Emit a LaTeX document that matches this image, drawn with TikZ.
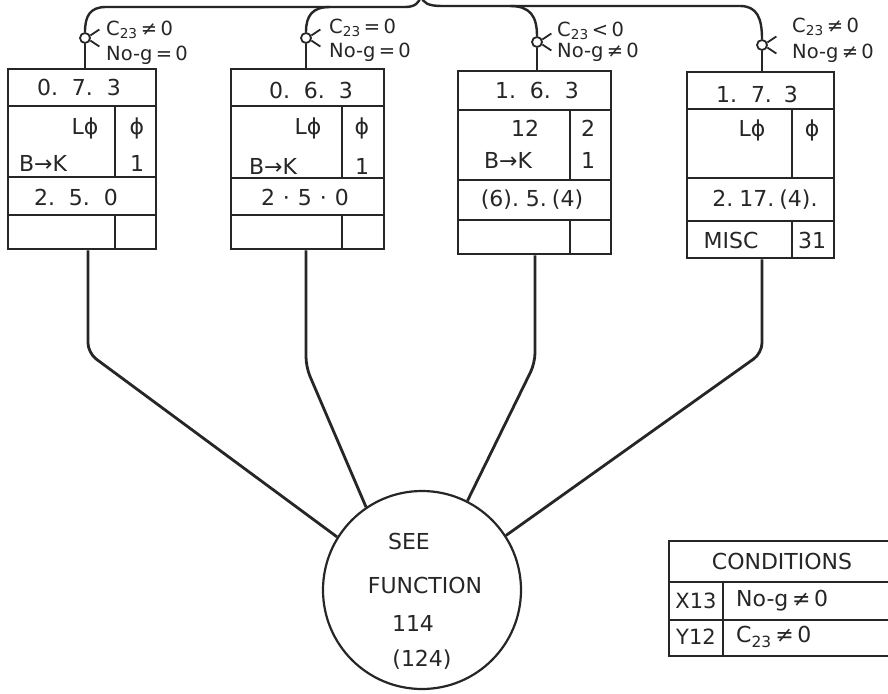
\documentclass[tikz,border=0pt]{standalone}
\usepackage{fontspec}
\setmainfont{DejaVu Sans}
\begin{document}
\begin{tikzpicture}[x=1pt,y=-1pt,
  ink/.style={draw=black!85, line width=2.4pt},
  thinink/.style={draw=black!85, line width=1.8pt},
  conn/.style={draw=black!85, line width=2.8pt, rounded corners=10pt},
  cellbox/.style={draw=black!85, line width=2.4pt, anchor=north west, inner sep=0pt},
  knot/.style={circle, draw=black!85, line width=1.8pt, minimum size=10pt, inner sep=0pt},
  txt/.style={font=\fontsize{22}{26}\selectfont, text=black!85, inner sep=0pt},
  small/.style={font=\fontsize{21}{24}\selectfont, text=black!85, inner sep=0pt},
  lbl/.style={font=\fontsize{19.5}{22}\selectfont, text=black!85, inner sep=0pt, anchor=west},
  big/.style={font=\fontsize{22}{26}\selectfont, text=black!85, inner sep=0pt}]
\fill[white] (0,0) rectangle (888,693);
\useasboundingbox (0,0) rectangle (888,693);

% ---------- boxes ----------
\node[cellbox, minimum width=148pt, minimum height=180pt] (b1) at (7,68) {};
\draw[ink] (7,106) -- (155,106) (7,177) -- (155,177) (7,215) -- (155,215);
\draw[thinink] (115,106) -- (115,177) (115,215) -- (115,248);

\node[cellbox, minimum width=153pt, minimum height=180pt] (b2) at (230,68) {};
\draw[ink] (230,106) -- (383,106) (230,178) -- (383,178) (230,215) -- (383,215);
\draw[thinink] (342,106) -- (342,178) (342,215) -- (342,248);

\node[cellbox, minimum width=153pt, minimum height=183pt] (b3) at (457,70) {};
\draw[ink] (457,110) -- (610,110) (457,180) -- (610,180) (457,220) -- (610,220);
\draw[thinink] (570,110) -- (570,180) (570,220) -- (570,253);

\node[cellbox, minimum width=147pt, minimum height=186pt] (b4) at (686,71) {};
\draw[ink] (686,109) -- (833,109) (686,178) -- (833,178) (686,221) -- (833,221);
\draw[thinink] (792,109) -- (792,178) (792,221) -- (792,257);

% box texts
\node[txt] (t11) at (79,87) {0.\hspace{14pt}7.\hspace{14pt}3};
\node[txt] (t12) at (85,128) {Lϕ};
\node[txt] (t13) at (137,128) {ϕ};
\node[txt] (t14) at (43,163) {B→K};
\node[txt] (t15) at (137,163) {1};
\node[txt] (t16) at (76,197) {2.\hspace{14pt}5.\hspace{14pt}0};

\node[txt] (t21) at (311,90) {0.\hspace{14pt}6.\hspace{14pt}3};
\node[txt] (t22) at (308,128) {Lϕ};
\node[txt] (t23) at (362,128) {ϕ};
\node[txt] (t24) at (273,166) {B→K};
\node[txt] (t25) at (362,166) {1};
\node[txt] (t26) at (305,197) {2\hspace{8pt}·\hspace{8pt}5\hspace{8pt}·\hspace{8pt}0};

\node[txt] (t31) at (537,90) {1.\hspace{14pt}6.\hspace{14pt}3};
\node[txt] (t32) at (525,128) {12};
\node[txt] (t33) at (588,128) {2};
\node[txt] (t34) at (508,160) {B→K};
\node[txt] (t35) at (588,160) {1};
\node[txt] (t36) at (532,200) {(6).\hspace{7pt}5.\hspace{5pt}(4)};

\node[txt] (t41) at (757,94) {1.\hspace{14pt}7.\hspace{12pt}3};
\node[txt] (t42) at (752,130) {Lϕ};
\node[txt] (t43) at (812,130) {ϕ};
\node[txt] (t46) at (765,200) {2.\hspace{6pt}17.\hspace{5pt}(4).};
\node[txt] (t47) at (731,240) {MISC};
\node[txt] (t48) at (812,240) {31};

% ---------- knots and top bracket ----------
\node[knot] (k1) at (85,38) {};
\node[knot] (k2) at (306,38) {};
\node[knot] (k3) at (537,42) {};
\node[knot] (k4) at (762,45) {};
\foreach \k in {k1,k2,k3,k4}{
  \draw[thinink] (\k.25) -- ++(9,-6);
  \draw[thinink] (\k.-25) -- ++(9,6);
}
\draw[ink] (k1.north) .. controls (85,16) and (90,7) .. (106,7) -- (405,7)
  .. controls (415,7) and (419,3) .. (421,-4)
  .. controls (423,3) and (428,6) .. (442,6) -- (740,6)
  .. controls (757,6) and (762,18) .. (k4.north);
\draw[ink] (k2.north) .. controls (306,16) and (312,7) .. (330,7);
\draw[ink] (510,6) .. controls (530,6) and (537,16) .. (k3.north);
\draw[ink] (k1.south) -- (k1 |- b1.north);
\draw[ink] (k2.south) -- (k2 |- b2.north);
\draw[ink] (k3.south) -- (k3 |- b3.north);
\draw[ink] (k4.south) -- (k4 |- b4.north);

% condition labels
\node[lbl] (l1a) at (106,30) {C\textsubscript{23}\,≠\,0};
\node[lbl] (l1b) at (106,55) {No-g\,=\,0};
\node[lbl] (l2a) at (329,28) {C\textsubscript{23}\,=\,0};
\node[lbl] (l2b) at (329,52) {No-g\,=\,0};
\node[lbl] (l3a) at (557,31) {C\textsubscript{23}\,<\,0};
\node[lbl] (l3b) at (557,52) {No-g\,≠\,0};
\node[lbl] (l4a) at (792,27) {C\textsubscript{23}\,≠\,0};
\node[lbl] (l4b) at (792,53) {No-g\,≠\,0};

% ---------- function circle ----------
\node[circle, draw=black!85, line width=2.2pt, minimum size=198pt, inner sep=0pt] (fn) at (422,590) {};
\node[big] (f1) at (409,541) {SEE};
\node[big] (f2) at (425,585) {FUNCTION};
\node[big] (f3) at (413,623) {114};
\node[big] (f4) at (422,660) {(124)};

\coordinate (c1) at (88,353);
\coordinate (c2) at (306,367);
\coordinate (c3) at (535,363);
\coordinate (c4) at (762,353);
\draw[conn] (c1 |- b1.south) -- (c1) -- (fn.148);
\draw[conn] (c2 |- b2.south) -- (c2) -- (fn.124);
\draw[conn] (c3 |- b3.south) -- (c3) -- (fn.63);
\draw[conn] (c4 |- b4.south) -- (c4) -- (fn.33);

% ---------- conditions table ----------
\node[draw=black!85, line width=2pt, anchor=north west, minimum width=226pt, minimum height=115pt, inner sep=0pt] (cond) at (668,540) {};
\draw[thinink] (668,582) -- (894,582) (668,620) -- (894,620);
\draw[thinink] (723,582) -- (723,655);
\node[big] (h) at (782,561) {CONDITIONS};
\node[small] (x13) at (696,601) {X13};
\node[small] (y12) at (696,637) {Y12};
\node[txt, anchor=west] (cx) at (736,601) {No-g\,≠\,0};
\node[txt, anchor=west] (cy) at (736,637) {C\textsubscript{23}\,≠\,0};
\end{tikzpicture}
\end{document}
